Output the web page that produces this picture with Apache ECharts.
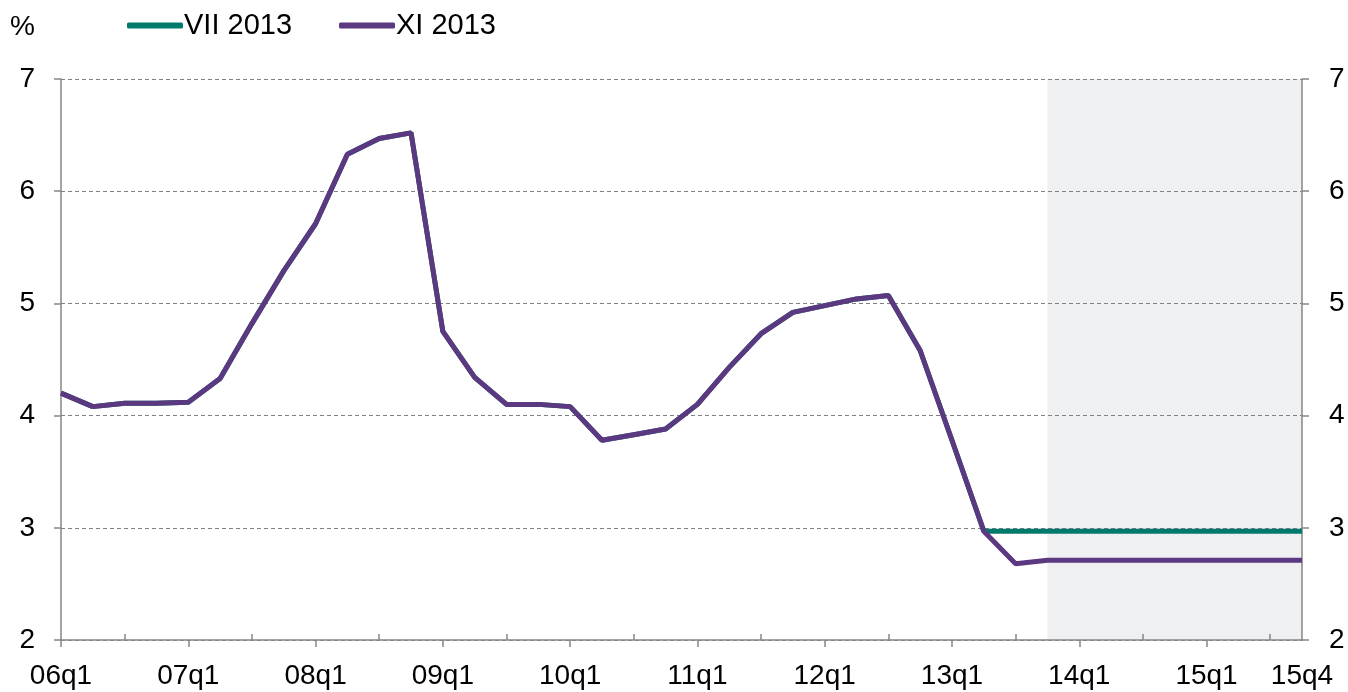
<!DOCTYPE html>
<html>
<head>
<meta charset="utf-8">
<script src="https://cdn.jsdelivr.net/npm/echarts@6/dist/echarts.min.js"></script>
<style>
    html, body { margin: 0; padding: 0; background: #fff; }
    #chart { width: 1348px; height: 692px; }
</style>
</head>
<body>
<div id="chart"></div>
<script>
// kwartaly 06q1 .. 15q4
var quarters = [];
for (var y = 6; y <= 15; y++) {
    for (var q = 1; q <= 4; q++) {
        quarters.push((y < 10 ? '0' + y : '' + y) + 'q' + q);
    }
}

var yTicks = [2, 3, 4, 5, 6, 7];

// projekcja XI 2013
var xi2013 = [4.20, 4.08, 4.11, 4.11, 4.12, 4.33, 4.82, 5.29,
              5.71, 6.33, 6.47, 6.52, 4.75, 4.34, 4.10, 4.10,
              4.08, 3.78, 3.83, 3.88, 4.10, 4.43, 4.73, 4.92,
              4.98, 5.04, 5.07, 4.58, 3.78, 2.97, 2.68, 2.71,
              2.71, 2.71, 2.71, 2.71, 2.71, 2.71, 2.71, 2.71];

// projekcja VII 2013
var vii2013 = [4.20, 4.08, 4.11, 4.11, 4.12, 4.33, 4.82, 5.29,
               5.71, 6.33, 6.47, 6.52, 4.75, 4.34, 4.10, 4.10,
               4.08, 3.78, 3.83, 3.88, 4.10, 4.43, 4.73, 4.92,
               4.98, 5.04, 5.07, 4.58, 3.78, 2.97, 2.97, 2.97,
               2.97, 2.97, 2.97, 2.97, 2.97, 2.97, 2.97, 2.97];

var forecastStart = '13q4';
var forecastEnd = '15q4';

var chart = echarts.init(document.getElementById('chart'));
var font = '"Liberation Sans", Arial, sans-serif';
var axisGray = '#868686';

chart.setOption({
    animation: false,
    textStyle: { fontFamily: font },
    grid: { left: 61, right: 46, top: 79, bottom: 52 },
    graphic: [{
        type: 'text',
        left: 10,
        top: 13,
        style: { text: '%', font: '28px ' + font, fill: '#000' }
    }],
    legend: {
        left: 122,
        top: 6,
        icon: 'roundRect',
        itemWidth: 56,
        itemHeight: 6,
        itemGap: 47,
        textStyle: { fontSize: 29, color: '#000', padding: [0, 0, 0, -4] },
        data: ['VII 2013', 'XI 2013']
    },
    xAxis: [{
        type: 'category',
        data: quarters,
        boundaryGap: false,
        axisLine: { lineStyle: { color: axisGray, width: 1.5 } },
        axisTick: {
            length: 7,
            interval: function (i) { return i % 4 === 0; },
            lineStyle: { color: axisGray, width: 1.5 }
        },
        axisLabel: {
            fontSize: 28,
            color: '#000',
            margin: 22,
            interval: function (i) { return i % 4 === 0 || i === quarters.length - 1; }
        },
        splitLine: { show: false }
    }, {
        // drobne kreski na q3, do srodka
        type: 'category',
        data: quarters,
        boundaryGap: false,
        position: 'bottom',
        axisLine: { show: false },
        axisTick: {
            inside: true,
            length: 6,
            interval: function (i) { return i % 4 === 2; },
            lineStyle: { color: axisGray, width: 1.5 }
        },
        axisLabel: { show: false },
        splitLine: { show: false }
    }],
    yAxis: [{
        type: 'value',
        min: yTicks[0],
        max: yTicks[yTicks.length - 1],
        interval: 1,
        axisLine: { show: true, lineStyle: { color: axisGray, width: 1.5 } },
        axisTick: { show: true, length: 7, lineStyle: { color: axisGray, width: 1.5 } },
        axisLabel: { fontSize: 28, color: '#000', margin: 26 },
        splitLine: { lineStyle: { color: '#808080', type: [4, 3], width: 1 } }
    }, {
        type: 'value',
        position: 'right',
        min: yTicks[0],
        max: yTicks[yTicks.length - 1],
        interval: 1,
        axisLine: { show: true, lineStyle: { color: axisGray, width: 1.5 } },
        axisTick: { show: true, length: 7, lineStyle: { color: axisGray, width: 1.5 } },
        axisLabel: { fontSize: 28, color: '#000', margin: 27 },
        splitLine: { show: false }
    }],
    series: [{
        name: 'VII 2013',
        type: 'line',
        data: vii2013,
        symbol: 'none',
        color: '#007A6C',
        lineStyle: { width: 5, color: '#007A6C' },
        markArea: {
            silent: true,
            z: -1,
            itemStyle: { color: '#EFF0F2' },
            data: [[{ xAxis: forecastStart }, { xAxis: forecastEnd }]]
        }
    }, {
        name: 'XI 2013',
        type: 'line',
        data: xi2013,
        symbol: 'none',
        color: '#5C3880',
        lineStyle: { width: 5, color: '#5C3880' }
    }]
});

window.onresize = function () {
    chart.resize();
};
</script>
</body>
</html>
